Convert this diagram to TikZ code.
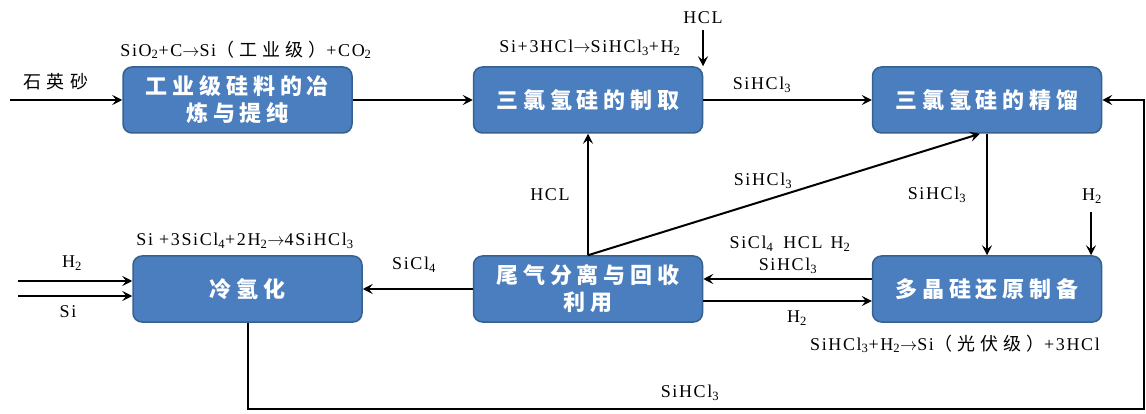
\documentclass[tikz,border=0pt]{standalone}
\usepackage{fontspec}
\setmainfont{Liberation Serif}[LetterSpace=9]
\newfontfamily\cjkbox{Noto Sans CJK SC}[LetterSpace=22]
\newfontfamily\cjklab{Noto Sans CJK SC}[LetterSpace=28]
\usetikzlibrary{arrows.meta}
\definecolor{boxfill}{HTML}{4A7EBF}
\definecolor{boxedge}{HTML}{36618F}
\newcommand{\sub}[1]{\textsubscript{#1}}
\begin{document}
\begin{tikzpicture}[x=1pt,y=-1pt,
  box/.style={draw=boxedge, fill=boxfill, rounded corners=9pt, line width=1.5pt,
    text=white, font=\cjkbox\bfseries\fontsize{22}{27}\selectfont, align=center,
    minimum width=229pt, minimum height=66pt, inner sep=0pt},
  lab/.style={font=\fontsize{18}{20}\selectfont, inner sep=1pt, text=black},
  flow/.style={line width=2pt, -{Stealth[length=10pt,width=10pt,inset=4pt]}}]
\useasboundingbox (0,0) rectangle (1146,414);
\fill[white] (0,0) rectangle (1146,414);

\node[box] (b1) at (237.5,100) {工业级硅料的冶\\炼与提纯};
\node[box] (b2) at (588,100) {三氯氢硅的制取};
\node[box] (b3) at (987,100) {三氯氢硅的精馏};
\node[box] (b4) at (247.5,289) {冷氢化};
\node[box] (b5) at (588,289) {尾气分离与回收\\利用};
\node[box] (b6) at (987,289) {多晶硅还原制备};

\coordinate (qs) at (10,100);
\draw[flow] (qs) -- (b1.west);
\draw[flow] (b1.east) -- (b2.west);
\coordinate (hcltop) at (703,30);
\draw[flow] (hcltop) -- (hcltop |- b2.north);
\draw[flow] (b2.east) -- (b3.west);
\coordinate (rc) at (1144,409);
\draw[flow] (b4.south) |- (rc) |- (b3.east);
\draw[flow] (b5.north) -- (b2.south);
\draw[flow] (b5.north) -- ([xshift=-7pt]b3.south);
\draw[flow] (b3.south) -- (b6.north);
\coordinate (h2top) at (1091,212);
\draw[flow] (h2top) -- (h2top |- b6.north);
\draw[flow] ([yshift=10pt]b6.west) -- ([yshift=10pt]b6.west -| b5.east);
\draw[flow] ([yshift=-12pt]b5.east) -- ([yshift=-12pt]b5.east -| b6.west);
\draw[flow] (b5.west) -- (b4.east);
\coordinate (h2in) at (18,281);
\coordinate (siin) at (18,296);
\draw[flow] (h2in) -- (h2in -| b4.west);
\draw[flow] (siin) -- (siin -| b4.west);

\node[lab] (lqs) at (56,82) {\cjklab\fontsize{18}{20}\selectfont 石英砂};
\node[lab] (eq1) at (246,50) {SiO\sub{2}+C$\rightarrow$Si{\cjklab（工业级）}+CO\sub{2}};
\node[lab] (lhcl) at (703,18) {HCL};
\node[lab] (eq2) at (590,48) {Si+3HCl$\rightarrow$SiHCl\sub{3}+H\sub{2}};
\node[lab] (l23) at (762,85) {SiHCl\sub{3}};
\node[lab] (lhcl2) at (550,195) {HCL};
\node[lab] (ldiag) at (763,181) {SiHCl\sub{3}};
\node[lab] (l36) at (937,195) {SiHCl\sub{3}};
\node[lab] (lh2top) at (1092,196) {H\sub{2}};
\node[lab] (lmix) at (790,244) {SiCl\sub{4}\hspace{10pt}HCL\hspace{8pt}H\sub{2}};
\node[lab] (lmix2) at (788,266) {SiHCl\sub{3}};
\node[lab] (lh2b) at (797,318) {H\sub{2}};
\node[lab] (eq3) at (955,344) {SiHCl\sub{3}+H\sub{2}$\rightarrow$Si{\cjklab（光伏级）}+3HCl};
\node[lab] (lsicl) at (414,265) {SiCl\sub{4}};
\node[lab] (eq4) at (245,241) {Si +3SiCl\sub{4}+2H\sub{2}$\rightarrow$4SiHCl\sub{3}};
\node[lab] (lh2in) at (72,263) {H\sub{2}};
\node[lab] (lsiin) at (68,312) {Si};
\node[lab] (lbot) at (690,393) {SiHCl\sub{3}};
\end{tikzpicture}
\end{document}
